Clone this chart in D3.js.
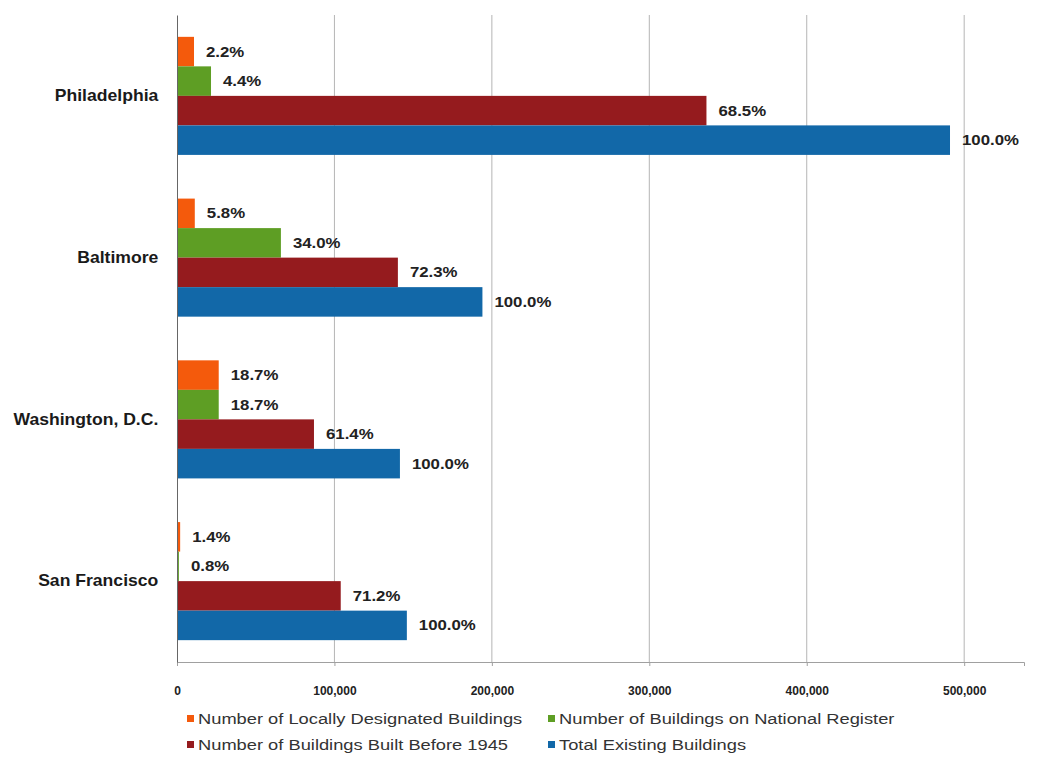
<!DOCTYPE html>
<html lang="en">
<head>
  <meta charset="UTF-8">
  <title>Historic Buildings</title>
  <script src="https://d3js.org/d3.v7.min.js"></script>
  <style>
    body { margin: 0; background: #fff; }
    svg { font-family: "Liberation Sans", Arial, sans-serif; }
    .cat text { font-size: 16px; font-weight: bold; fill: #1a1a1a; }
    .x.axis text { font-size: 12px; font-weight: bold; fill: #222; }
    .val { font-size: 14px; font-weight: bold; fill: #222; }
    .legend text { font-size: 15px; fill: #333; }
  </style>
</head>
<body>
  <div id="chart"></div>
  <script>
    var cities = ["Philadelphia", "Baltimore", "Washington, D.C.", "San Francisco"];
    var seriesNames = [
      "Number of Locally Designated Buildings",
      "Number of Buildings on National Register",
      "Number of Buildings Built Before 1945",
      "Total Existing Buildings"
    ];
    var colors = ["#f45a0c", "#5e9e24", "#951b1e", "#1268a8"];

    // values per city, in series order
    var localDesignated = [10800, 11300, 26500, 2000];
    var nationalRegister = [21600, 66000, 26500, 1200];
    var before1945 = [336300, 140300, 87000, 104000];
    var totalBuildings = [491000, 194000, 141600, 146000];

    var localLabels = ["2.2%", "5.8%", "18.7%", "1.4%"];
    var nationalLabels = ["4.4%", "34.0%", "18.7%", "0.8%"];
    var beforeLabels = ["68.5%", "72.3%", "61.4%", "71.2%"];
    var totalLabels = ["100.0%", "100.0%", "100.0%", "100.0%"];

    var xTicks = [0, 100000, 200000, 300000, 400000, 500000];

    var allValues = [localDesignated, nationalRegister, before1945, totalBuildings];
    var allLabels = [localLabels, nationalLabels, beforeLabels, totalLabels];

    var width = 1053, height = 759;
    var plotLeft = 177, plotRight = 1024, plotTop = 15, plotBottom = 662;

    var svg = d3.select("#chart").append("svg")
      .attr("width", width)
      .attr("height", height);

    var x = d3.scaleLinear().domain([0, 538000]).range([plotLeft, plotRight]);
    var y = d3.scaleBand().domain(cities).range([plotTop, plotBottom]).padding(0);
    var ySub = d3.scaleBand().domain(d3.range(4)).range([0, y.bandwidth()])
      .paddingInner(0).paddingOuter(0.74);

    // gridlines
    svg.append("g").selectAll("line")
      .data(xTicks.slice(1))
      .enter().append("line")
      .attr("x1", function (d) { return x(d); })
      .attr("x2", function (d) { return x(d); })
      .attr("y1", plotTop)
      .attr("y2", plotBottom)
      .attr("stroke", "#b5b5b5")
      .attr("stroke-width", 1);

    // bars
    var rows = [];
    cities.forEach(function (c, i) {
      allValues.forEach(function (vals, s) {
        rows.push({ city: c, s: s, v: vals[i], label: allLabels[s][i] });
      });
    });

    svg.append("g").selectAll("rect")
      .data(rows)
      .enter().append("rect")
      .attr("x", x(0))
      .attr("y", function (d) { return y(d.city) + ySub(d.s); })
      .attr("width", function (d) { return x(d.v) - x(0); })
      .attr("height", ySub.bandwidth())
      .attr("fill", function (d) { return colors[d.s]; });

    // the source image is stretched sideways, so labels get a small x scale
    svg.append("g").selectAll("text")
      .data(rows)
      .enter().append("text")
      .attr("class", "val")
      .attr("transform", function (d) {
        var ty = y(d.city) + ySub(d.s) + ySub.bandwidth() / 2;
        return "translate(" + (x(d.v) + 12) + "," + ty + ") scale(1.2,1)";
      })
      .attr("dy", "0.35em")
      .text(function (d) { return d.label; });

    // x axis
    var xAxis = d3.axisBottom(x).tickValues(xTicks)
      .tickFormat(d3.format(",")).tickSize(4).tickPadding(20);
    var gx = svg.append("g")
      .attr("class", "x axis")
      .attr("transform", "translate(0," + plotBottom + ")")
      .call(xAxis);
    gx.select(".domain").attr("stroke", "#a0a0a0");
    gx.selectAll(".tick line").attr("stroke", "#a0a0a0");

    // category axis
    var yAxis = d3.axisLeft(y).tickSize(0).tickPadding(17);
    var gy = svg.append("g")
      .attr("class", "cat")
      .attr("transform", "translate(" + plotLeft + ",0)")
      .call(yAxis);
    gy.select(".domain").attr("stroke", "#666");
    gy.selectAll(".tick text").attr("transform", "scale(1.1,1)");

    // legend
    var legendPos = [[187, 719], [548, 719], [187, 745], [548, 745]];
    var lg = svg.append("g").attr("class", "legend")
      .selectAll("g")
      .data(seriesNames)
      .enter().append("g")
      .attr("transform", function (d, i) {
        return "translate(" + legendPos[i][0] + "," + legendPos[i][1] + ")";
      });
    lg.append("rect")
      .attr("x", 0).attr("y", -4)
      .attr("width", 7).attr("height", 7)
      .attr("fill", function (d, i) { return colors[i]; });
    lg.append("text")
      .attr("transform", "translate(11,0) scale(1.22,1)")
      .attr("dy", "0.35em")
      .text(function (d) { return d; });
  </script>
</body>
</html>
